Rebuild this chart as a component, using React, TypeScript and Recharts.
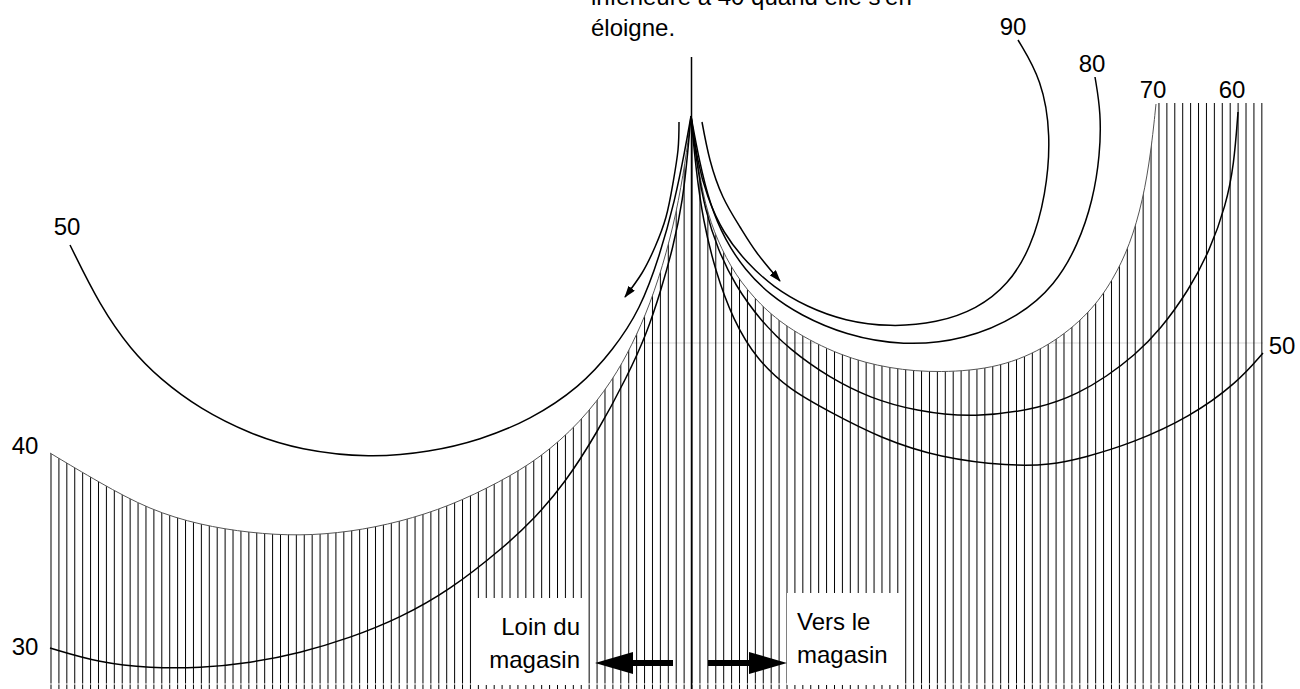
import { ComposedChart, Area, Line, Scatter, XAxis, YAxis, ReferenceArea } from 'recharts';

type Pt = { x: number; y: number };
type Note = { x: number; y: number; text: string; anchor?: 'start' | 'middle' | 'end' };

const FONT = '"Liberation Sans", Arial, sans-serif';

// edges of the hatched zone (y counted from the top)
const edge40: Pt[] = [
  { x: 50, y: 453 }, { x: 100, y: 483 }, { x: 150, y: 510 }, { x: 200, y: 525 }, { x: 250, y: 533 },
  { x: 300, y: 536 }, { x: 350, y: 532 }, { x: 400, y: 522 }, { x: 450, y: 506 }, { x: 500, y: 482 },
  { x: 540, y: 458 }, { x: 580, y: 423 }, { x: 613, y: 380 }, { x: 632, y: 345 }, { x: 650, y: 305 },
  { x: 667, y: 252 }, { x: 679, y: 200 }, { x: 687, y: 150 }, { x: 691, y: 116 },
];
const edge70: Pt[] = [
  { x: 691, y: 116 }, { x: 697, y: 160 }, { x: 705, y: 205 }, { x: 717, y: 240 }, { x: 735, y: 275 },
  { x: 760, y: 305 }, { x: 790, y: 330 }, { x: 840, y: 356 }, { x: 890, y: 369 }, { x: 940, y: 373 },
  { x: 1000, y: 368 }, { x: 1050, y: 346 }, { x: 1090, y: 313 }, { x: 1113, y: 280 }, { x: 1130, y: 245 },
  { x: 1143, y: 200 }, { x: 1151, y: 152 }, { x: 1156, y: 104 },
];
const flatTop: Pt[] = [{ x: 1156, y: 103 }, { x: 1263, y: 103 }];

// curves to the left of the peak
const left50: Pt[] = [
  { x: 70, y: 245 }, { x: 100, y: 306 }, { x: 131, y: 350 }, { x: 160, y: 379 }, { x: 200, y: 409 },
  { x: 250, y: 434 }, { x: 300, y: 450 }, { x: 370, y: 458 }, { x: 430, y: 452 }, { x: 480, y: 440 },
  { x: 530, y: 420 }, { x: 580, y: 387 }, { x: 613, y: 350 }, { x: 640, y: 310 }, { x: 660, y: 255 },
  { x: 675, y: 200 }, { x: 685, y: 150 }, { x: 691, y: 116 },
];
const left30: Pt[] = [
  { x: 50, y: 648 }, { x: 100, y: 663 }, { x: 150, y: 668 }, { x: 200, y: 668 }, { x: 250, y: 663 },
  { x: 300, y: 653 }, { x: 350, y: 638 }, { x: 400, y: 618 }, { x: 450, y: 590 }, { x: 503, y: 548 },
  { x: 535, y: 518 }, { x: 565, y: 483 }, { x: 597, y: 433 }, { x: 627, y: 377 }, { x: 647, y: 333 },
  { x: 661, y: 290 }, { x: 673, y: 248 }, { x: 683, y: 200 }, { x: 688, y: 150 }, { x: 691, y: 116 },
];

// curves to the right of the peak
const right90: Pt[] = [
  { x: 691, y: 116 }, { x: 697, y: 160 }, { x: 707, y: 197 }, { x: 723, y: 233 }, { x: 747, y: 263 },
  { x: 773, y: 287 }, { x: 807, y: 307 }, { x: 845, y: 321 }, { x: 890, y: 327 }, { x: 937, y: 323 },
  { x: 977, y: 309 }, { x: 1008, y: 285 }, { x: 1031, y: 248 }, { x: 1046, y: 195 }, { x: 1051, y: 135 },
  { x: 1042, y: 80 }, { x: 1018, y: 40 },
];
const right80: Pt[] = [
  { x: 691, y: 116 }, { x: 699, y: 160 }, { x: 710, y: 205 }, { x: 725, y: 240 }, { x: 745, y: 270 },
  { x: 770, y: 295 }, { x: 800, y: 315 }, { x: 845, y: 335 }, { x: 903, y: 346 }, { x: 965, y: 340 },
  { x: 1020, y: 316 }, { x: 1055, y: 285 }, { x: 1078, y: 245 }, { x: 1093, y: 200 }, { x: 1100, y: 155 },
  { x: 1101, y: 113 }, { x: 1095, y: 77 },
];
const right60: Pt[] = [
  { x: 691, y: 116 }, { x: 697, y: 165 }, { x: 705, y: 210 }, { x: 718, y: 250 }, { x: 735, y: 285 },
  { x: 760, y: 320 }, { x: 790, y: 350 }, { x: 830, y: 378 }, { x: 870, y: 398 }, { x: 915, y: 411 },
  { x: 975, y: 418 }, { x: 1042, y: 408 }, { x: 1079, y: 393 }, { x: 1106, y: 377 }, { x: 1135, y: 355 },
  { x: 1160, y: 330 }, { x: 1189, y: 290 }, { x: 1210, y: 250 }, { x: 1226, y: 205 }, { x: 1234, y: 165 },
  { x: 1238, y: 112 },
];
const right50: Pt[] = [
  { x: 691, y: 116 }, { x: 696, y: 170 }, { x: 703, y: 220 }, { x: 715, y: 270 }, { x: 733, y: 320 },
  { x: 757, y: 360 }, { x: 790, y: 390 }, { x: 830, y: 412 }, { x: 880, y: 438 }, { x: 940, y: 458 },
  { x: 1010, y: 466 }, { x: 1050, y: 465 }, { x: 1083, y: 458 }, { x: 1133, y: 443 }, { x: 1190, y: 417 },
  { x: 1237, y: 383 }, { x: 1263, y: 353 },
];

const centerStem: Pt[] = [{ x: 691.5, y: 57 }, { x: 691.5, y: 689 }];

// direction arrows
const arrowAwayCurve: Pt[] = [
  { x: 679, y: 122 }, { x: 678, y: 150 }, { x: 673, y: 183 }, { x: 666, y: 217 }, { x: 655, y: 247 },
  { x: 642, y: 273 }, { x: 625, y: 297 },
];
const arrowTowardCurve: Pt[] = [
  { x: 702, y: 122 }, { x: 710, y: 160 }, { x: 723, y: 197 }, { x: 740, y: 227 }, { x: 757, y: 253 },
  { x: 780, y: 281 },
];
const shaftAway: Pt[] = [{ x: 673, y: 663 }, { x: 633, y: 663 }];
const shaftToward: Pt[] = [{ x: 708, y: 663 }, { x: 749, y: 663 }];

const notes: Note[] = [
  { x: 591, y: 5, text: "inférieure à 40 quand elle s'en", anchor: 'start' },
  { x: 591, y: 36, text: 'éloigne.', anchor: 'start' },
  { x: 1013, y: 35, text: '90' },
  { x: 1092, y: 72, text: '80' },
  { x: 1153, y: 98, text: '70' },
  { x: 1232, y: 98, text: '60' },
  { x: 1282, y: 354, text: '50' },
  { x: 67, y: 235, text: '50' },
  { x: 25, y: 454, text: '40' },
  { x: 25, y: 655, text: '30' },
  { x: 580, y: 635, text: 'Loin du', anchor: 'end' },
  { x: 580, y: 668, text: 'magasin', anchor: 'end' },
  { x: 797, y: 630, text: 'Vers le', anchor: 'start' },
  { x: 797, y: 663, text: 'magasin', anchor: 'start' },
];

const NoteText = (props: any) => {
  const { cx, cy, payload } = props;
  return (
    <text x={cx} y={cy} textAnchor={payload.anchor ?? 'middle'} fontSize={24} fontFamily={FONT} fill="#000">
      {payload.text}
    </text>
  );
};

export default function App() {
  const thick = { stroke: '#000', strokeWidth: 1.5, dot: false, activeDot: false, isAnimationActive: false } as const;
  const thin = { stroke: '#555', strokeWidth: 1, dot: false, activeDot: false, isAnimationActive: false } as const;

  return (
    <div style={{ position: 'absolute', left: 0, top: 0, width: 1300, height: 689, background: '#fff' }}>
      <ComposedChart width={1300} height={689} margin={{ top: 0, right: 0, bottom: 0, left: 0 }}>
        <defs>
          <pattern id="hatch" patternUnits="userSpaceOnUse" x={50.5} y={0} width={7.914} height={689}>
            <rect x={0} y={0} width={1} height={683.5} fill="#000" />
            <rect x={0} y={684.5} width={1} height={5} fill="#000" />
            <rect x={1} y={342.5} width={6.914} height={1} fill="#d8d8d8" />
          </pattern>
          <marker id="smallHead" markerUnits="userSpaceOnUse" markerWidth={12} markerHeight={8}
            refX={11} refY={4} orient="auto">
            <path d="M0,0 L12,4 L0,8 z" fill="#000" />
          </marker>
          <marker id="bigHead" markerUnits="userSpaceOnUse" markerWidth={38} markerHeight={22}
            refX={0} refY={11} orient="auto">
            <path d="M0,0 L38,11 L0,22 z" fill="#000" />
          </marker>
        </defs>
        <XAxis type="number" dataKey="x" domain={[0, 1300]} hide allowDataOverflow />
        <YAxis type="number" dataKey="y" domain={[0, 689]} reversed hide allowDataOverflow />

        <Area data={edge40} dataKey="y" type="basis" baseValue={689} fill="url(#hatch)" fillOpacity={1}
          stroke="none" isAnimationActive={false} activeDot={false} />
        <Area data={edge70} dataKey="y" type="basis" baseValue={689} fill="url(#hatch)" fillOpacity={1}
          stroke="none" isAnimationActive={false} activeDot={false} />
        <Area data={flatTop} dataKey="y" type="linear" baseValue={689} fill="url(#hatch)" fillOpacity={1}
          stroke="none" isAnimationActive={false} activeDot={false} />

        <ReferenceArea x1={472} x2={588} y1={598} y2={685} fill="#fff" fillOpacity={1} stroke="none" />
        <ReferenceArea x1={787} x2={905} y1={593} y2={685} fill="#fff" fillOpacity={1} stroke="none" />

        <Line data={edge40} dataKey="y" type="basis" {...thin} />
        <Line data={edge70} dataKey="y" type="basis" {...thin} />
        <Line data={left50} dataKey="y" type="basis" {...thick} />
        <Line data={left30} dataKey="y" type="basis" {...thick} />
        <Line data={right90} dataKey="y" type="basis" {...thick} />
        <Line data={right80} dataKey="y" type="basis" {...thick} />
        <Line data={right60} dataKey="y" type="basis" {...thick} />
        <Line data={right50} dataKey="y" type="basis" {...thick} />
        <Line data={centerStem} dataKey="y" type="linear" {...thick} />

        <Line data={arrowAwayCurve} dataKey="y" type="natural" {...thick} markerEnd="url(#smallHead)" />
        <Line data={arrowTowardCurve} dataKey="y" type="natural" {...thick} markerEnd="url(#smallHead)" />
        <Line data={shaftAway} dataKey="y" type="linear" {...thick} strokeWidth={6} markerEnd="url(#bigHead)" />
        <Line data={shaftToward} dataKey="y" type="linear" {...thick} strokeWidth={6} markerEnd="url(#bigHead)" />

        <Scatter data={notes} dataKey="y" shape={NoteText} isAnimationActive={false} />
      </ComposedChart>
    </div>
  );
}
